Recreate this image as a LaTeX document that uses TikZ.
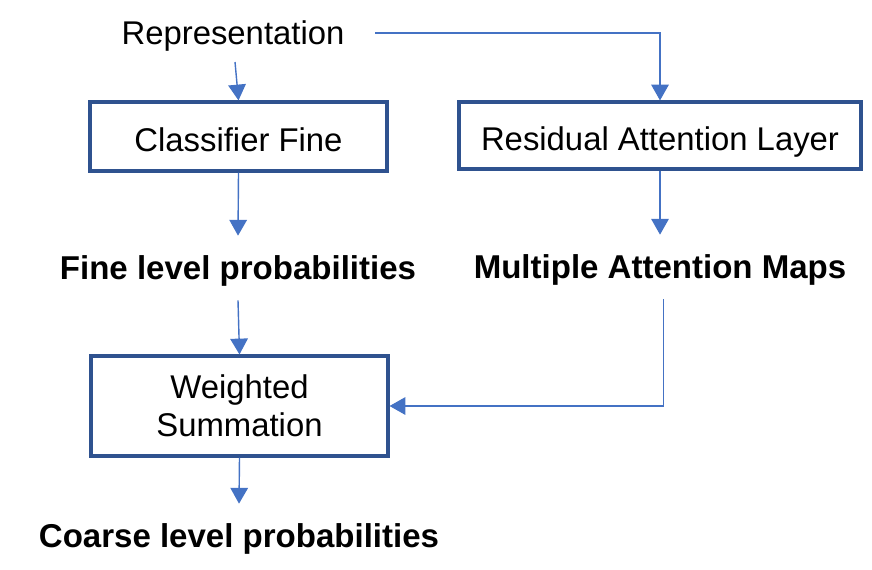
\documentclass[tikz,border=0pt]{standalone}
\usepackage{fontspec}
\setmainfont{Liberation Sans}
\usepackage{xcolor}
\usetikzlibrary{arrows.meta}
\definecolor{boxblue}{RGB}{47,82,143}
\definecolor{arrowblue}{RGB}{68,114,196}

\tikzset{
  blockbox/.style={draw=boxblue, line width=1.8pt, fill=white, inner sep=0pt,
    font=\fontsize{18.7}{21.5}\selectfont, align=center},
  oneline/.style={text height=17pt, text depth=0pt},
  outlabel/.style={font=\fontsize{18.8}{21.5}\selectfont\bfseries, inner sep=0pt,
    minimum height=1.28cm, text height=17pt, text depth=3.9pt},
  arr/.style={draw=arrowblue, line width=0.8pt, -{Triangle[width=10pt,length=9pt]}}
}

\begin{document}
\begin{tikzpicture}[x=0.02cm, y=-0.02cm]

% Canvas
\useasboundingbox (0,0) rectangle (872,569);

% Input
\node[font=\fontsize{18.7}{21.5}\selectfont, text height=17pt, text depth=3.9pt] (rep) at (233,33) {Representation};
\coordinate (repout) at (235,62);
\coordinate (repright) at (375,33);

% Boxes
\node[blockbox, oneline, minimum width=5.94cm, minimum height=1.38cm] (cf) at (238.5,136.5) {Classifier Fine};
\node[blockbox, oneline, minimum width=8.04cm, minimum height=1.34cm] (ral) at (660,135.5) {Residual Attention Layer};
\node[blockbox, minimum width=5.94cm, minimum height=2.0cm] (ws) at (239.5,406) {Weighted\\Summation};

% Outputs
\node[outlabel] (fine) at (238,268) {Fine level probabilities};
\node[outlabel] (maps) at (660,267) {Multiple Attention Maps};
\node[outlabel] (coarse) at (239,536) {Coarse level probabilities};

% Connectors
\draw[arr] (repout) -- (cf.north);
\draw[arr] (repright) -| (ral.north);
\draw[arr] (cf.south) -- (fine.north);
\draw[arr] (ral.south) -- (maps.north);
\draw[arr] (fine.south) -- (ws.north);
\draw[arr] ([xshift=2pt]maps.south) |- (ws.east);
\draw[arr] (ws.south) -- (coarse.north);

\end{tikzpicture}
\end{document}
